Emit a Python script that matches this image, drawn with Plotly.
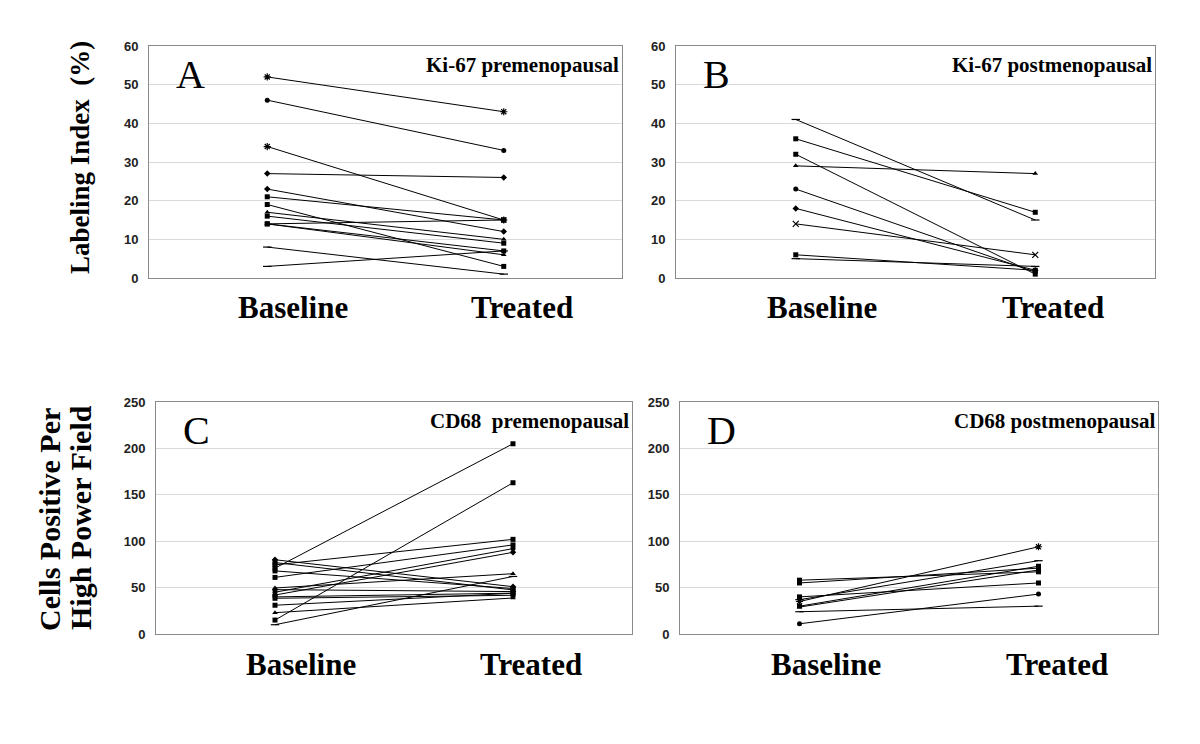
import plotly.graph_objects as go

categories = ["Baseline", "Treated"]

# Panel A: Ki-67 premenopausal (Labeling index %)
a_baseline = [52, 46, 34, 27, 23, 21, 19, 17, 16, 14, 14, 14, 8, 3]
a_treated = [43, 33, 15, 26, 12, 15, 3, 10, 9, 15, 7, 6, 1, 7]
a_symbols = ["asterisk", "circle", "asterisk", "diamond", "diamond", "square", "square",
             "triangle-up", "square", "square", "square", "triangle-up", "line-ew", "line-ew"]

# Panel B: Ki-67 postmenopausal
b_baseline = [41, 36, 32, 29, 23, 18, 14, 6, 5]
b_treated = [15, 17, 1, 27, 1.5, 2, 6, 2, 3]
b_symbols = ["line-ew", "square", "square", "triangle-up", "circle", "diamond", "x", "square", "line-ew"]

# Panel C: CD68 premenopausal (cells per HPF)
c_baseline = [71, 15, 74.5, 61, 80, 45, 42, 49.6, 10, 77, 68, 47.8, 40, 38.5, 31, 23]
c_treated = [205, 163, 102, 96, 51, 92, 88, 65, 62, 47.5, 49, 45.7, 44, 41.7, 43.9, 38.8]
c_symbols = ["square", "square", "square", "square", "diamond", "circle", "diamond", "triangle-up",
             "line-ew", "square", "square", "diamond", "circle", "square", "square", "triangle-up"]

# Panel D: CD68 postmenopausal
d_baseline = [11, 24, 58, 55, 35, 40, 37, 30, 29]
d_treated = [43, 30, 67, 71, 94, 55, 79, 73, 69]
d_symbols = ["circle", "line-ew", "square", "square", "asterisk", "square", "line-ew", "square", "triangle-up"]

panel_letters = ["A", "B", "C", "D"]
panel_titles = ["Ki-67 premenopausal", "Ki-67 postmenopausal", "CD68  premenopausal", "CD68 postmenopausal"]
y_max = [60, 60, 250, 250]
y_step = [10, 10, 50, 50]

W, H = 1200, 744
PAGE_OFFSET = 8  # default body margin of the html page
# pixel boxes in the screenshot (left, right, top, bottom)
boxes = [(149, 622, 46, 278), (676, 1155, 46, 278), (156, 632, 402, 634), (680, 1158, 402, 634)]

def px(x):
    return (x - PAGE_OFFSET) / W

def py(y):
    return 1 - (y - PAGE_OFFSET) / H

SERIF = "Liberation Serif, Times New Roman"

fig = go.Figure()
panels = [(a_baseline, a_treated, a_symbols), (b_baseline, b_treated, b_symbols),
          (c_baseline, c_treated, c_symbols), (d_baseline, d_treated, d_symbols)]

for i, (base, treat, syms) in enumerate(panels):
    xa = "x" if i == 0 else f"x{i+1}"
    ya = "y" if i == 0 else f"y{i+1}"
    for b, t, s in zip(base, treat, syms):
        open_sym = s in ("line-ew", "asterisk", "x")
        fig.add_trace(go.Scatter(
            x=categories, y=[b, t], mode="lines+markers",
            xaxis=xa, yaxis=ya, showlegend=False,
            line=dict(color="black", width=1),
            marker=dict(symbol=("x-thin" if s == "x" else s), size=(6 if open_sym else 5),
                        color="black",
                        line=dict(color="black", width=(1.2 if open_sym else 0))),
        ))

layout = dict(width=W, height=H, autosize=False, margin=dict(l=0, r=0, t=0, b=0, pad=0),
              template="none",
              paper_bgcolor="white", plot_bgcolor="white", showlegend=False)

annotations = []
for i, (l, r, t, b) in enumerate(boxes):
    xk = "xaxis" if i == 0 else f"xaxis{i+1}"
    yk = "yaxis" if i == 0 else f"yaxis{i+1}"
    xa = "x" if i == 0 else f"x{i+1}"
    ya = "y" if i == 0 else f"y{i+1}"
    layout[xk] = dict(domain=[px(l), px(r)], anchor=ya, type="category",
                      categoryorder="array", categoryarray=categories, automargin=False,
                      range=[-0.5, 1.5], showticklabels=False, ticks="",
                      showgrid=False, zeroline=False,
                      showline=True, mirror=True, linecolor="#8a8a8a", linewidth=1)
    layout[yk] = dict(domain=[py(b), py(t)], anchor=xa, range=[0, y_max[i]], automargin=False,
                      dtick=y_step[i], tick0=0, ticks="", ticklabelstandoff=7,
                      showgrid=True, gridcolor="#d9d9d9", gridwidth=1, zeroline=False,
                      showline=True, mirror=True, linecolor="#8a8a8a", linewidth=1,
                      tickfont=dict(family="Liberation Sans, Arial", size=13, color="#222222",
                                    weight="bold"))
    # panel letter
    annotations.append(dict(text=panel_letters[i], xref="paper", yref="paper",
                            x=px(l + 25), y=py(t + 4), xanchor="left", yanchor="top",
                            showarrow=False,
                            font=dict(family=SERIF, size=40, color="black")))
    # panel title
    annotations.append(dict(text="<b>" + panel_titles[i] + "</b>", xref="paper", yref="paper",
                            x=px(r - 1), y=py(t + 19), xanchor="right", yanchor="middle",
                            showarrow=False,
                            font=dict(family=SERIF, size=21, color="black")))
    # category labels
    for cat, shift in zip(categories, [26, 18]):
        annotations.append(dict(text="<b>" + cat + "</b>", xref=xa, yref=ya,
                                x=cat, y=0, xshift=shift, yshift=-30,
                                xanchor="center", yanchor="middle", showarrow=False,
                                font=dict(family=SERIF, size=31, color="black")))

# y-axis titles
annotations.append(dict(text="<b>Labeling Index  (%)</b>", xref="paper", yref="paper",
                        x=px(80), y=py(158), xanchor="center", yanchor="middle",
                        textangle=-90, showarrow=False,
                        font=dict(family=SERIF, size=27, color="black")))
annotations.append(dict(text="<b>Cells Positive Per</b>", xref="paper", yref="paper",
                        x=px(49), y=py(520), xanchor="center", yanchor="middle",
                        textangle=-90, showarrow=False,
                        font=dict(family=SERIF, size=30, color="black")))
annotations.append(dict(text="<b>High Power Field</b>", xref="paper", yref="paper",
                        x=px(81), y=py(518), xanchor="center", yanchor="middle",
                        textangle=-90, showarrow=False,
                        font=dict(family=SERIF, size=30, color="black")))

layout["annotations"] = annotations
fig.update_layout(**layout)
fig.write_html("out.html")
